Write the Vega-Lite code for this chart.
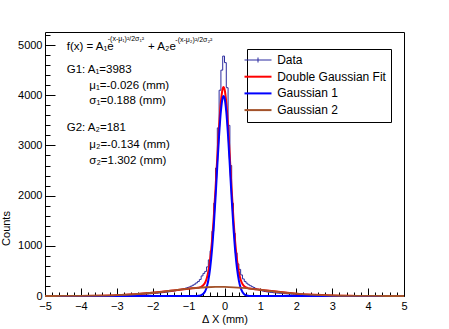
{
  "$schema": "https://vega.github.io/schema/vega-lite/v6.json",
  "width": 359,
  "height": 264,
  "autosize": {"type": "none"},
  "padding": {"left": 45, "top": 32, "right": 45, "bottom": 33},
  "background": "white",
  "config": {
    "font": "Liberation Sans",
    "view": {"stroke": "#000", "strokeWidth": 1},
    "axis": {"grid": false, "domain": false, "labelFont": "Liberation Sans", "titleFont": "Liberation Sans", "labelFontSize": 11, "titleFontSize": 11, "titleFontWeight": "normal", "labelColor": "#000", "titleColor": "#000", "tickColor": "#000", "tickWidth": 1}
  },
  "datasets": {
    "hist": [
      {"x": -4.975, "y": 0}, {"x": -4.925, "y": 1}, {"x": -4.875, "y": 0}, {"x": -4.825, "y": 1}, {"x": -4.775, "y": 0},
      {"x": -4.725, "y": 1}, {"x": -4.675, "y": 1}, {"x": -4.625, "y": 0}, {"x": -4.575, "y": 1}, {"x": -4.525, "y": 1},
      {"x": -4.475, "y": 1}, {"x": -4.425, "y": 2}, {"x": -4.375, "y": 1}, {"x": -4.325, "y": 1}, {"x": -4.275, "y": 2},
      {"x": -4.225, "y": 1}, {"x": -4.175, "y": 2}, {"x": -4.125, "y": 2}, {"x": -4.075, "y": 3}, {"x": -4.025, "y": 2},
      {"x": -3.975, "y": 3}, {"x": -3.925, "y": 3}, {"x": -3.875, "y": 4}, {"x": -3.825, "y": 3}, {"x": -3.775, "y": 4},
      {"x": -3.725, "y": 5}, {"x": -3.675, "y": 4}, {"x": -3.625, "y": 5}, {"x": -3.575, "y": 6}, {"x": -3.525, "y": 5},
      {"x": -3.475, "y": 7}, {"x": -3.425, "y": 6}, {"x": -3.375, "y": 8}, {"x": -3.325, "y": 7}, {"x": -3.275, "y": 9},
      {"x": -3.225, "y": 10}, {"x": -3.175, "y": 9}, {"x": -3.125, "y": 11}, {"x": -3.075, "y": 12}, {"x": -3.025, "y": 13},
      {"x": -2.975, "y": 14}, {"x": -2.925, "y": 15}, {"x": -2.875, "y": 16}, {"x": -2.825, "y": 18}, {"x": -2.775, "y": 17},
      {"x": -2.725, "y": 20}, {"x": -2.675, "y": 22}, {"x": -2.625, "y": 21}, {"x": -2.575, "y": 24}, {"x": -2.525, "y": 26},
      {"x": -2.475, "y": 27}, {"x": -2.425, "y": 29}, {"x": -2.375, "y": 31}, {"x": -2.325, "y": 30}, {"x": -2.275, "y": 34},
      {"x": -2.225, "y": 36}, {"x": -2.175, "y": 38}, {"x": -2.125, "y": 41}, {"x": -2.075, "y": 43}, {"x": -2.025, "y": 46},
      {"x": -1.975, "y": 49}, {"x": -1.925, "y": 52}, {"x": -1.875, "y": 55}, {"x": -1.825, "y": 58}, {"x": -1.775, "y": 62},
      {"x": -1.725, "y": 66}, {"x": -1.675, "y": 70}, {"x": -1.625, "y": 75}, {"x": -1.575, "y": 80}, {"x": -1.525, "y": 86},
      {"x": -1.475, "y": 92}, {"x": -1.425, "y": 98}, {"x": -1.375, "y": 104}, {"x": -1.325, "y": 112}, {"x": -1.275, "y": 120},
      {"x": -1.225, "y": 128}, {"x": -1.175, "y": 136}, {"x": -1.125, "y": 146}, {"x": -1.075, "y": 156}, {"x": -1.025, "y": 168},
      {"x": -0.975, "y": 180}, {"x": -0.925, "y": 196}, {"x": -0.875, "y": 215}, {"x": -0.825, "y": 236}, {"x": -0.775, "y": 262},
      {"x": -0.725, "y": 290}, {"x": -0.675, "y": 330}, {"x": -0.625, "y": 400}, {"x": -0.575, "y": 450}, {"x": -0.525, "y": 490},
      {"x": -0.475, "y": 580}, {"x": -0.425, "y": 720}, {"x": -0.375, "y": 900}, {"x": -0.325, "y": 1290}, {"x": -0.275, "y": 1850},
      {"x": -0.225, "y": 2550}, {"x": -0.175, "y": 3350}, {"x": -0.125, "y": 4100}, {"x": -0.075, "y": 4500}, {"x": -0.025, "y": 4780},
      {"x": 0.025, "y": 4650}, {"x": 0.075, "y": 4150}, {"x": 0.125, "y": 3400}, {"x": 0.175, "y": 2600}, {"x": 0.225, "y": 1850},
      {"x": 0.275, "y": 1250}, {"x": 0.325, "y": 860}, {"x": 0.375, "y": 640}, {"x": 0.425, "y": 530}, {"x": 0.475, "y": 420},
      {"x": 0.525, "y": 340}, {"x": 0.575, "y": 290}, {"x": 0.625, "y": 255}, {"x": 0.675, "y": 225}, {"x": 0.725, "y": 205},
      {"x": 0.775, "y": 185}, {"x": 0.825, "y": 168}, {"x": 0.875, "y": 150}, {"x": 0.925, "y": 135}, {"x": 0.975, "y": 120},
      {"x": 1.025, "y": 108}, {"x": 1.075, "y": 98}, {"x": 1.125, "y": 90}, {"x": 1.175, "y": 84}, {"x": 1.225, "y": 78},
      {"x": 1.275, "y": 73}, {"x": 1.325, "y": 69}, {"x": 1.375, "y": 65}, {"x": 1.425, "y": 61}, {"x": 1.475, "y": 58},
      {"x": 1.525, "y": 55}, {"x": 1.575, "y": 52}, {"x": 1.625, "y": 49}, {"x": 1.675, "y": 46}, {"x": 1.725, "y": 43},
      {"x": 1.775, "y": 41}, {"x": 1.825, "y": 38}, {"x": 1.875, "y": 36}, {"x": 1.925, "y": 34}, {"x": 1.975, "y": 32},
      {"x": 2.025, "y": 30}, {"x": 2.075, "y": 28}, {"x": 2.125, "y": 26}, {"x": 2.175, "y": 25}, {"x": 2.225, "y": 23},
      {"x": 2.275, "y": 22}, {"x": 2.325, "y": 20}, {"x": 2.375, "y": 19}, {"x": 2.425, "y": 18}, {"x": 2.475, "y": 17},
      {"x": 2.525, "y": 16}, {"x": 2.575, "y": 15}, {"x": 2.625, "y": 14}, {"x": 2.675, "y": 13}, {"x": 2.725, "y": 12},
      {"x": 2.775, "y": 11}, {"x": 2.825, "y": 11}, {"x": 2.875, "y": 10}, {"x": 2.925, "y": 9}, {"x": 2.975, "y": 9},
      {"x": 3.025, "y": 8}, {"x": 3.075, "y": 8}, {"x": 3.125, "y": 7}, {"x": 3.175, "y": 7}, {"x": 3.225, "y": 6},
      {"x": 3.275, "y": 6}, {"x": 3.325, "y": 5}, {"x": 3.375, "y": 5}, {"x": 3.425, "y": 5}, {"x": 3.475, "y": 4},
      {"x": 3.525, "y": 4}, {"x": 3.575, "y": 4}, {"x": 3.625, "y": 3}, {"x": 3.675, "y": 3}, {"x": 3.725, "y": 3},
      {"x": 3.775, "y": 4}, {"x": 3.825, "y": 6}, {"x": 3.875, "y": 3}, {"x": 3.925, "y": 2}, {"x": 3.975, "y": 2},
      {"x": 4.025, "y": 2}, {"x": 4.075, "y": 2}, {"x": 4.125, "y": 1}, {"x": 4.175, "y": 2}, {"x": 4.225, "y": 1},
      {"x": 4.275, "y": 1}, {"x": 4.325, "y": 1}, {"x": 4.375, "y": 1}, {"x": 4.425, "y": 1}, {"x": 4.475, "y": 1},
      {"x": 4.525, "y": 0}, {"x": 4.575, "y": 1}, {"x": 4.625, "y": 0}, {"x": 4.675, "y": 1}, {"x": 4.725, "y": 0},
      {"x": 4.775, "y": 0}, {"x": 4.825, "y": 1}, {"x": 4.875, "y": 0}, {"x": 4.925, "y": 0}, {"x": 4.975, "y": 0}
    ],
    "fit": [
      {"x": -5, "y": 0.2}, {"x": -4.5, "y": 0.7}, {"x": -4, "y": 2.2}, {"x": -3.5, "y": 6.4}, {"x": -3, "y": 16.1},
      {"x": -2.5, "y": 34.7}, {"x": -2, "y": 64.8}, {"x": -1.75, "y": 83.8}, {"x": -1.5, "y": 104.4}, {"x": -1.25, "y": 125.4},
      {"x": -1, "y": 145.1}, {"x": -0.9, "y": 152.3}, {"x": -0.8, "y": 159.6}, {"x": -0.75, "y": 164.2}, {"x": -0.7, "y": 171.1},
      {"x": -0.65, "y": 183.4}, {"x": -0.6, "y": 207.5}, {"x": -0.55, "y": 253.9}, {"x": -0.5, "y": 339.9}, {"x": -0.45, "y": 488.7},
      {"x": -0.4, "y": 727.3}, {"x": -0.35, "y": 1080.5}, {"x": -0.3, "y": 1556.5}, {"x": -0.25, "y": 2138.3}, {"x": -0.2, "y": 2775.8},
      {"x": -0.15, "y": 3385}, {"x": -0.1, "y": 3866.9}, {"x": -0.05, "y": 4131.6}, {"x": -0.025, "y": 4163.4}, {"x": 0, "y": 4125},
      {"x": 0.05, "y": 3849.2}, {"x": 0.1, "y": 3360.1}, {"x": 0.15, "y": 2746.7}, {"x": 0.2, "y": 2109.1}, {"x": 0.25, "y": 1529.3},
      {"x": 0.3, "y": 1056.2}, {"x": 0.35, "y": 707.9}, {"x": 0.4, "y": 472.4}, {"x": 0.45, "y": 324.7}, {"x": 0.5, "y": 240.3},
      {"x": 0.55, "y": 194.2}, {"x": 0.6, "y": 170}, {"x": 0.65, "y": 157.2}, {"x": 0.7, "y": 149.7}, {"x": 0.75, "y": 144.5},
      {"x": 0.8, "y": 140.3}, {"x": 0.9, "y": 132}, {"x": 1, "y": 123.9}, {"x": 1.25, "y": 102.9}, {"x": 1.5, "y": 82.4},
      {"x": 1.75, "y": 63.5}, {"x": 2, "y": 47.3}, {"x": 2.5, "y": 23.4}, {"x": 3, "y": 10}, {"x": 3.5, "y": 3.7},
      {"x": 4, "y": 1.2}, {"x": 4.5, "y": 0.3}, {"x": 5, "y": 0.1}
    ],
    "g1": [
      {"x": -5, "y": 0}, {"x": -2, "y": 0}, {"x": -1, "y": 0}, {"x": -0.9, "y": 0.1}, {"x": -0.8, "y": 0.8},
      {"x": -0.75, "y": 2.4}, {"x": -0.7, "y": 6.4}, {"x": -0.65, "y": 16.1}, {"x": -0.6, "y": 37.7}, {"x": -0.55, "y": 81.9},
      {"x": -0.5, "y": 165.9}, {"x": -0.45, "y": 313}, {"x": -0.4, "y": 550}, {"x": -0.35, "y": 902}, {"x": -0.3, "y": 1377},
      {"x": -0.25, "y": 1958}, {"x": -0.2, "y": 2595}, {"x": -0.15, "y": 3204}, {"x": -0.1, "y": 3686}, {"x": -0.05, "y": 3951},
      {"x": -0.025, "y": 3983}, {"x": 0, "y": 3945}, {"x": 0.05, "y": 3670}, {"x": 0.1, "y": 3182}, {"x": 0.15, "y": 2570},
      {"x": 0.2, "y": 1934}, {"x": 0.25, "y": 1356}, {"x": 0.3, "y": 885}, {"x": 0.35, "y": 539}, {"x": 0.4, "y": 306},
      {"x": 0.45, "y": 161}, {"x": 0.5, "y": 79.5}, {"x": 0.55, "y": 36.5}, {"x": 0.6, "y": 15.6}, {"x": 0.65, "y": 6.2},
      {"x": 0.7, "y": 2.3}, {"x": 0.75, "y": 0.8}, {"x": 0.8, "y": 0.3}, {"x": 0.9, "y": 0}, {"x": 1, "y": 0},
      {"x": 2, "y": 0}, {"x": 5, "y": 0}
    ],
    "g2": [
      {"x": -5, "y": 0.2}, {"x": -4.5, "y": 0.7}, {"x": -4, "y": 2.2}, {"x": -3.5, "y": 6.4}, {"x": -3, "y": 16.1},
      {"x": -2.5, "y": 34.7}, {"x": -2, "y": 64.8}, {"x": -1.75, "y": 83.8}, {"x": -1.5, "y": 104.4}, {"x": -1.25, "y": 125.4},
      {"x": -1, "y": 145.1}, {"x": -0.75, "y": 161.8}, {"x": -0.5, "y": 174}, {"x": -0.25, "y": 180.3}, {"x": -0.134, "y": 181},
      {"x": 0, "y": 180}, {"x": 0.25, "y": 173.3}, {"x": 0.5, "y": 160.8}, {"x": 0.75, "y": 143.7}, {"x": 1, "y": 123.9},
      {"x": 1.25, "y": 102.9}, {"x": 1.5, "y": 82.4}, {"x": 1.75, "y": 63.5}, {"x": 2, "y": 47.3}, {"x": 2.5, "y": 23.4},
      {"x": 3, "y": 10}, {"x": 3.5, "y": 3.7}, {"x": 4, "y": 1.2}, {"x": 4.5, "y": 0.3}, {"x": 5, "y": 0.1}
    ],
    "notes": [
      {"x": -4.396, "y": 4967, "label": "f(x) = A₁e"},
      {"x": -2.131, "y": 4967, "label": "+ A₂e"},
      {"x": -4.396, "y": 4503, "label": "G1: A₁=3983"},
      {"x": -3.766, "y": 4184, "label": "μ₁=-0.026 (mm)"},
      {"x": -3.766, "y": 3885, "label": "σ₁=0.188 (mm)"},
      {"x": -4.396, "y": 3353, "label": "G2: A₂=181"},
      {"x": -3.766, "y": 3009, "label": "μ₂=-0.134 (mm)"},
      {"x": -3.766, "y": 2690, "label": "σ₂=1.302 (mm)"}
    ],
    "sups": [
      {"x": -3.253, "y": 5120, "label": "-(x-μ₁)²/2σ₁²"},
      {"x": -1.37, "y": 5110, "label": "-(x-μ₂)²/2σ₂²"}
    ]
  },
  "encoding": {
    "x": {
      "field": "x", "type": "quantitative",
      "scale": {"domain": [-5, 5], "nice": false, "zero": false},
      "axis": {
        "title": "Δ X (mm)",
        "values": [-5, -4.8, -4.6, -4.4, -4.2, -4, -3.8, -3.6, -3.4, -3.2, -3, -2.8, -2.6, -2.4, -2.2, -2, -1.8, -1.6, -1.4, -1.2, -1, -0.8, -0.6, -0.4, -0.2, 0, 0.2, 0.4, 0.6, 0.8, 1, 1.2, 1.4, 1.6, 1.8, 2, 2.2, 2.4, 2.6, 2.8, 3, 3.2, 3.4, 3.6, 3.8, 4, 4.2, 4.4, 4.6, 4.8, 5],
        "labelExpr": "abs(datum.value - round(datum.value)) < 0.001 ? format(round(datum.value), '.0f') : ''",
        "tickSize": {"condition": {"test": "abs(datum.value - round(datum.value)) < 0.001", "value": -8}, "value": -4},
        "labelPadding": 12.5,
        "labelFlush": false,
        "labelOverlap": false,
        "titleX": 179.5,
        "titleY": 23,
        "titleBaseline": "middle",
        "titleAlign": "center"
      }
    },
    "y": {
      "field": "y", "type": "quantitative",
      "scale": {"domain": [0, 5260], "nice": false},
      "axis": {
        "title": "Counts",
        "values": [0, 200, 400, 600, 800, 1000, 1200, 1400, 1600, 1800, 2000, 2200, 2400, 2600, 2800, 3000, 3200, 3400, 3600, 3800, 4000, 4200, 4400, 4600, 4800, 5000, 5200],
        "format": "d",
        "labelExpr": "datum.value % 1000 === 0 ? datum.label : ''",
        "tickSize": {"condition": {"test": "datum.value % 1000 === 0", "value": -10}, "value": -5},
        "labelPadding": 13,
        "labelFlush": false,
        "labelOverlap": false,
        "titleX": -38.7,
        "titleY": 196,
        "titleAngle": -90,
        "titleBaseline": "middle",
        "titleAlign": "center"
      }
    }
  },
  "layer": [
    {
      "data": {"name": "hist"},
      "mark": {"type": "line", "interpolate": "step", "strokeWidth": 1},
      "encoding": {
        "color": {
          "datum": "Data",
          "scale": {"domain": ["Data", "Double Gaussian Fit", "Gaussian 1", "Gaussian 2"], "range": ["#2b2b9f", "#ff0000", "#0000ff", "#a3522a"]},
          "legend": {
            "title": null,
            "orient": "none",
            "legendX": 202,
            "legendY": 17,
            "fillColor": "#ffffff",
            "strokeColor": "#000000",
            "padding": 5,
            "symbolType": "M-2.7,0H2.7",
            "symbolSize": 100,
            "symbolStrokeWidth": 2,
            "labelFont": "Liberation Sans",
            "labelFontSize": 12,
            "labelColor": "#000000",
            "labelOffset": 13.2,
            "rowPadding": 4.7,
            "labelLimit": 300,
            "encode": {
              "symbols": {
                "update": {
                  "shape": {"signal": "datum.value === 'Data' ? 'M-2.7,0H2.7M0,-0.5V0.5' : 'M-2.7,0H2.7'"},
                  "strokeWidth": {"signal": "datum.value === 'Data' ? 1 : 2"}
                }
              }
            }
          }
        }
      }
    },
    {
      "data": {"name": "fit"},
      "mark": {"type": "line", "interpolate": "monotone", "strokeWidth": 2},
      "encoding": {"color": {"datum": "Double Gaussian Fit"}}
    },
    {
      "data": {"name": "g1"},
      "mark": {"type": "line", "interpolate": "monotone", "strokeWidth": 2},
      "encoding": {"color": {"datum": "Gaussian 1"}}
    },
    {
      "data": {"name": "g2"},
      "mark": {"type": "line", "interpolate": "monotone", "strokeWidth": 1.8},
      "encoding": {"color": {"datum": "Gaussian 2"}}
    },
    {
      "data": {"name": "notes"},
      "mark": {"type": "text", "align": "left", "baseline": "middle", "font": "Liberation Sans", "fontSize": 11.5, "color": "#000"},
      "encoding": {"text": {"field": "label"}}
    },
    {
      "data": {"name": "sups"},
      "mark": {"type": "text", "align": "left", "baseline": "middle", "font": "Liberation Sans", "fontSize": 7, "color": "#000"},
      "encoding": {"text": {"field": "label"}}
    }
  ]
}
